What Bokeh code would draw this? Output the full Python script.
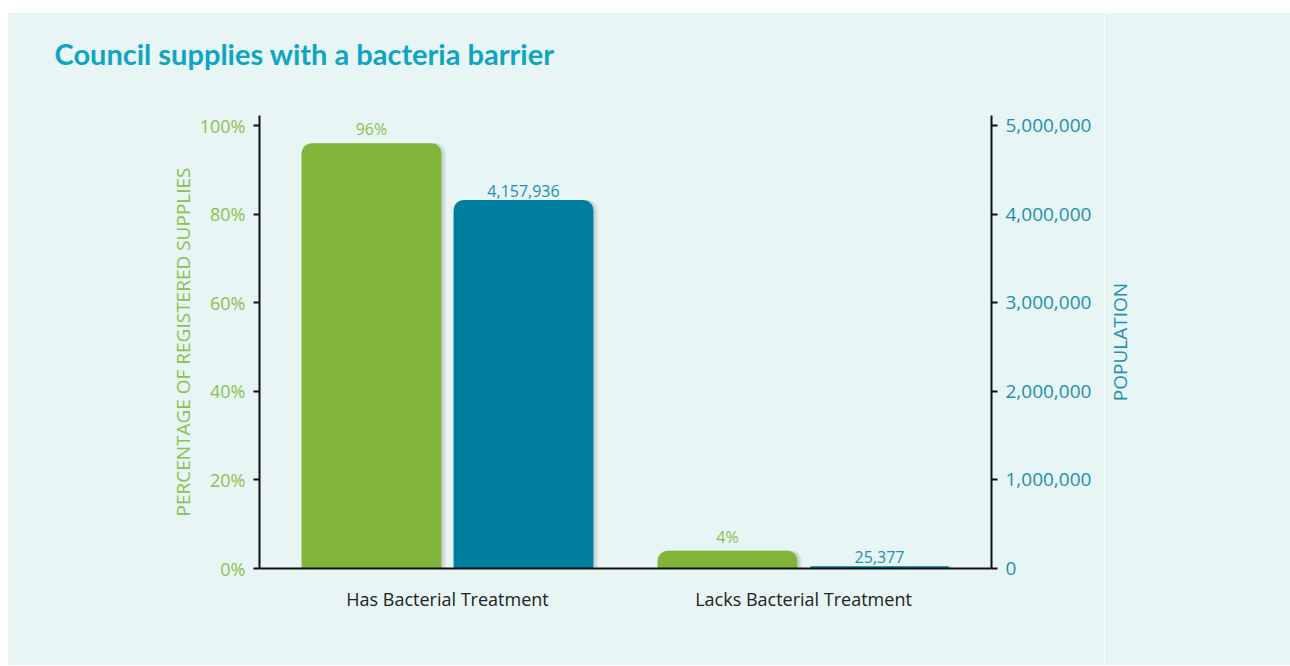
from bokeh.plotting import figure
from bokeh.layouts import row
from bokeh.models import (Range1d, LinearAxis, ColumnDataSource, Title,
                          PrintfTickFormatter, NumeralTickFormatter, FixedTicker)
from bokeh.core.properties import value
from bokeh.embed import file_html
from bokeh.resources import INLINE

categories = ["Has Bacterial Treatment", "Lacks Bacterial Treatment"]
pct_values = [96, 4]
pop_values = [4157936, 25377]
pct_ticks = [0, 20, 40, 60, 80, 100]
pop_ticks = [0, 1000000, 2000000, 3000000, 4000000, 5000000]

BG = "#e7f5f5"
GREEN = "#80b53a"
BLUE = "#007ea0"
GREEN_TXT = "#8cc04f"
BLUE_TXT = "#1e8fae"
TITLE = "#0fa5c1"
FONT = "Open Sans"

OFF = 0.2135
W = 0.393
pct_top = 102.26
x_end = 2.028
centers = [i + 0.5 for i in range(len(categories))]
src = ColumnDataSource(dict(
    xg=[c - OFF for c in centers],
    xb=[c + OFF for c in centers],
    pct=pct_values,
    pop=pop_values,
    pct_lbl=[f"{v}%" for v in pct_values],
    pop_lbl=[f"{v:,}" for v in pop_values],
))

W1 = 1097
W2 = 1283 - W1
p = figure(width=W1, height=653, output_backend="svg", toolbar_location=None,
           x_range=Range1d(-0.028, x_end), y_range=Range1d(0, pct_top),
           min_border_left=252, min_border_right=W1 - 984, min_border_top=103,
           min_border_bottom=97,
           background_fill_color=BG, border_fill_color=BG, outline_line_color=None)
p.extra_y_ranges = {"pop": Range1d(0, pct_top * 50000)}

p.add_layout(Title(text=" ", text_font_size="10px", standoff=30), "above")
p.add_layout(Title(text="Council supplies with a bacteria barrier", text_font="Lato",
                   text_font_size="29px", text_font_style="bold", text_color=TITLE,
                   offset=-205, standoff=4), "above")

p.xgrid.visible = False
p.ygrid.visible = False

for dx, a in [(0.013, 0.06), (0.007, 0.07)]:
    sx = ColumnDataSource(dict(xg=[x + dx for x in src.data["xg"]],
                               xb=[x + dx for x in src.data["xb"]],
                               pct=pct_values, pop=pop_values))
    p.vbar(x="xg", top="pct", bottom=-1.0, width=W, source=sx, fill_color="black",
           fill_alpha=a, line_color=None, border_radius=(10, 10, 0, 0))
    p.vbar(x="xb", top="pop", bottom=-50000, width=W, source=sx, fill_color="black",
           fill_alpha=a, line_color=None, y_range_name="pop",
           border_radius=(10, 10, 0, 0))

p.vbar(x="xg", top="pct", bottom=0, width=W, source=src, fill_color=GREEN,
       line_color=None, border_radius=(10, 10, 0, 0))
p.vbar(x="xb", top="pop", bottom=0, width=W, source=src, fill_color=BLUE,
       line_color=None, y_range_name="pop", border_radius=(10, 10, 0, 0))

p.text(x="xg", y="pct", text="pct_lbl", source=src, text_align="center",
       text_baseline="bottom", y_offset=-3, text_font=value(FONT),
       text_font_size="16px", text_color=GREEN_TXT)
p.text(x="xb", y="pop", text="pop_lbl", source=src, text_align="center",
       text_baseline="bottom", y_offset=-3, y_range_name="pop",
       text_font=value(FONT), text_font_size="16px", text_color=BLUE_TXT)

xa = p.xaxis[0]
xa.ticker = FixedTicker(ticks=centers)
xa.major_label_overrides = {c: lab for c, lab in zip(centers, categories)}
xa.axis_line_color = "#111111"
xa.axis_line_width = 2
xa.major_tick_line_color = None
xa.minor_tick_line_color = None
xa.major_label_standoff = 12
xa.major_label_text_font = FONT
xa.major_label_text_font_size = "18px"
xa.major_label_text_color = "#222222"

ya = p.yaxis[0]
ya.ticker = FixedTicker(ticks=pct_ticks)
ya.formatter = PrintfTickFormatter(format="%d%%")
ya.axis_label = "PERCENTAGE OF REGISTERED SUPPLIES"

ra = LinearAxis(y_range_name="pop")
ra.ticker = FixedTicker(ticks=pop_ticks)
ra.formatter = NumeralTickFormatter(format="0,0")
p.add_layout(ra, "right")

for ax, col, fs in [(ya, GREEN_TXT, "18px"), (ra, BLUE_TXT, "19px")]:
    ax.axis_line_color = "#111111"
    ax.axis_line_width = 2
    ax.major_tick_line_color = "#111111"
    ax.major_tick_line_width = 2
    ax.major_tick_out = 6
    ax.major_tick_in = 0
    ax.minor_tick_line_color = None
    ax.major_label_standoff = 8
    ax.major_label_text_font = FONT
    ax.major_label_text_font_size = fs
    ax.major_label_text_color = col
    ax.axis_label_text_font = FONT
    ax.axis_label_text_font_size = "19px"
    ax.axis_label_text_font_style = "normal"
    ax.axis_label_text_color = col
ya.axis_label_standoff = 1

# narrow companion panel carrying the right-hand axis title (reads bottom to top)
p2 = figure(width=W2, height=653, output_backend="svg", toolbar_location=None,
            x_range=Range1d(0, 1), y_range=Range1d(0, 1),
            x_axis_location=None, y_axis_location=None,
            min_border_left=24, min_border_right=0, min_border_top=103,
            min_border_bottom=97,
            background_fill_color=BG, border_fill_color=BG, outline_line_color=None)
p2.grid.visible = False
p2.add_layout(Title(text="POPULATION", align="center", text_font=FONT,
                    text_font_size="19px", text_font_style="normal",
                    text_color=BLUE_TXT, standoff=0), "left")

layout = row(p, p2, styles={"margin-left": "7px", "margin-top": "12px"})

open("out.html", "w").write(file_html(layout, INLINE))
